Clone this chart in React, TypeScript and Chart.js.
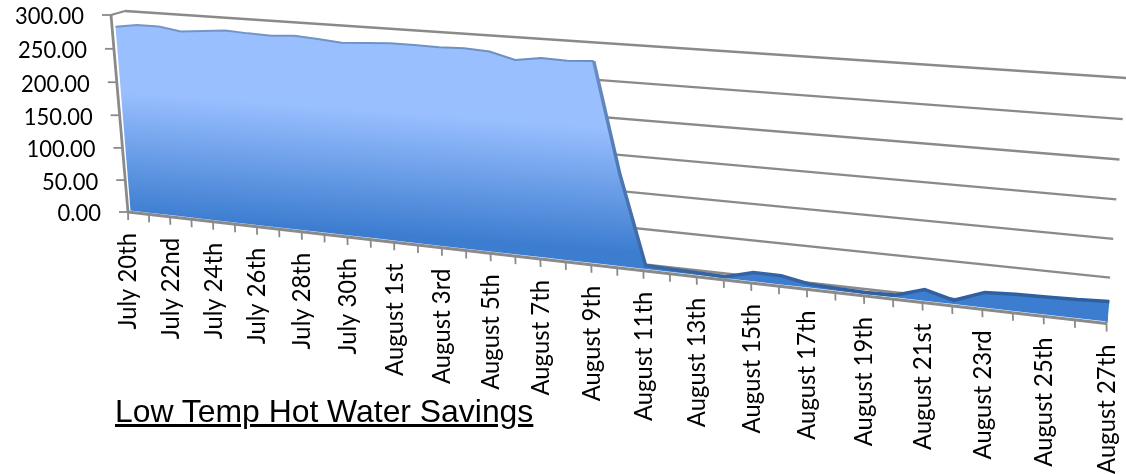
import React, { useEffect, useRef } from "react";
import { Chart, registerables } from "chart.js";

Chart.register(...registerables);

const categories = [
  "July 20th", "July 21st", "July 22nd", "July 23rd", "July 24th", "July 25th", "July 26th", "July 27th",
  "July 28th", "July 29th", "July 30th", "July 31st", "August 1st", "August 2nd", "August 3rd", "August 4th",
  "August 5th", "August 6th", "August 7th", "August 8th", "August 9th", "August 10th", "August 11th", "August 12th",
  "August 13th", "August 14th", "August 15th", "August 16th", "August 17th", "August 18th", "August 19th",
  "August 20th", "August 21st", "August 22nd", "August 23rd", "August 24th", "August 25th", "August 26th", "August 27th",
];
const savings = [
  281, 286, 286, 281, 284, 287, 285, 284, 286, 284, 281, 283, 285, 285, 284, 285, 283, 274, 279, 278, 280,
  129, 5, 4, 3, 2, 12, 12, 5, 3, 2, 3, 15, 5, 20, 22, 23, 24, 26,
];
const titleText = "Low Temp Hot Water Savings";
const Y_STEP = 50;
const Y_MAX = 300;

type Pt = [number, number];
// Perspective: unit square (u along the categories, v up the values) -> picture quad [BL, BR, TR, TL]
function homography(q: Pt[]) {
  const [[x0, y0], [x1, y1], [x2, y2], [x3, y3]] = q;
  const dx1 = x1 - x2, dx2 = x3 - x2, sx = x0 - x1 + x2 - x3;
  const dy1 = y1 - y2, dy2 = y3 - y2, sy = y0 - y1 + y2 - y3;
  const den = dx1 * dy2 - dx2 * dy1;
  const g = (sx * dy2 - dx2 * sy) / den;
  const h = (dx1 * sy - sx * dy1) / den;
  const a = x1 - x0 + g * x1, b = x3 - x0 + h * x3;
  const d = y1 - y0 + g * y1, e = y3 - y0 + h * y3;
  return (u: number, v: number): Pt => {
    const w = g * u + h * v + 1;
    return [(a * u + b * v + x0) / w, (d * u + e * v + y0) / w];
  };
}
const axisPlane = homography([[128, 212], [1106.5, 323.5], [1129, 83], [111, 15]]);
const areaPlane = homography([[130.5, 210.5], [1107.5, 321.5], [1130, 82], [114.5, 14]]);
const wallPlane = homography([[142, 208.5], [1107, 316], [1126, 78], [125, 11]]);

function norm(chart: any, xPx: number, yPx: number): Pt {
  const { x, y } = chart.scales;
  return [(xPx - x.left) / x.width, (y.bottom - yPx) / y.height];
}

const perspective = {
  id: "perspective",
  afterDatasetsUpdate(chart: any) {
    const { x, y } = chart.scales;
    chart.getDatasetMeta(0).data.forEach((p: any, i: number) => {
      const [u, v] = norm(chart, x.getPixelForValue(i), y.getPixelForValue(savings[i]));
      const [px, py] = areaPlane(u, v);
      p.x = px;
      p.y = py;
    });
  },
  beforeDatasetsDraw(chart: any) {
    const { ctx } = chart;
    const { x, y } = chart.scales;
    const GRID = "#8a8a8a";
    const line = (a: Pt, b: Pt, w: number) => {
      ctx.lineWidth = w;
      ctx.beginPath();
      ctx.moveTo(a[0], a[1]);
      ctx.lineTo(b[0], b[1]);
      ctx.stroke();
    };
    ctx.save();
    ctx.strokeStyle = GRID;
    ctx.lineCap = "butt";
    // wall gridlines
    y.ticks.forEach((t: any) => {
      const [, v] = norm(chart, 0, y.getPixelForValue(t.value));
      line(wallPlane(0, v), wallPlane(1, v), 2.3);
    });
    // joins between wall and front axes
    line(axisPlane(0, 1), wallPlane(0, 1), 2.3);
    line(axisPlane(1, 0), wallPlane(1, 0), 2.3);
    // value axis with ticks
    line(axisPlane(0, 0), axisPlane(0, 1), 2.8);
    y.ticks.forEach((t: any) => {
      const [, v] = norm(chart, 0, y.getPixelForValue(t.value));
      const p = axisPlane(0, v);
      line([p[0] - 9, p[1]], p, 1.8);
    });
    // category axis with ticks
    line(axisPlane(0, 0), axisPlane(1, 0), 2.8);
    x.ticks.forEach((_: any, i: number) => {
      const [u] = norm(chart, x.getPixelForValue(i), 0);
      const p = axisPlane(u, 0);
      line(p, [p[0] + 0.2, p[1] + 8], 1.8);
    });
    // area face: data points down to the zero line of the same plane
    const pts = chart.getDatasetMeta(0).data;
    const g = ctx.createLinearGradient(128, 92, 119, 214);
    g.addColorStop(0, "#99bfff");
    g.addColorStop(1, "#3d7dd0");
    ctx.fillStyle = g;
    ctx.beginPath();
    pts.forEach((p: any, i: number) => (i ? ctx.lineTo(p.x, p.y) : ctx.moveTo(p.x, p.y)));
    for (let i = pts.length - 1; i >= 0; i--) {
      const [u, v] = norm(chart, x.getPixelForValue(i), y.getPixelForValue(0));
      const b = areaPlane(u, v);
      ctx.lineTo(b[0], b[1]);
    }
    ctx.closePath();
    ctx.fill();
    ctx.restore();
  },
  afterDraw(chart: any) {
    const { ctx } = chart;
    const { x, y } = chart.scales;
    ctx.save();
    ctx.fillStyle = "#000";
    ctx.textAlign = "right";
    ctx.textBaseline = "middle";
    ctx.font = "23px Lato";
    y.ticks.forEach((t: any) => {
      const [, v] = norm(chart, 0, y.getPixelForValue(t.value));
      const p = axisPlane(0, v);
      ctx.save();
      ctx.translate(p[0] - 27, p[1] + 2);
      ctx.scale(0.955, 1);
      ctx.fillText(t.label, 0, 0);
      ctx.restore();
    });
    ctx.font = "24.6px Lato";
    x.ticks.forEach((t: any, i: number) => {
      if (!t.label) return;
      const [u] = norm(chart, x.getPixelForValue(i), 0);
      const p = axisPlane(u, 0);
      ctx.save();
      ctx.translate(p[0] + 0.5, p[1] + 21);
      ctx.rotate(-Math.PI / 2);
      ctx.scale(0.97, 1);
      ctx.fillText(t.label, 0, 0);
      ctx.restore();
    });
    ctx.restore();
  },
};

export default function App() {
  const ref = useRef<HTMLCanvasElement>(null);
  useEffect(() => {
    document.body.style.margin = "0";
    const canvas = ref.current!;
    const c2d = canvas.getContext("2d")!;
    const edge = c2d.createLinearGradient(0, 25, 0, 300);
    edge.addColorStop(0, "#7496c8");
    edge.addColorStop(1, "#2f5f9f");
    const chart = new Chart(canvas, {
      type: "line",
      data: {
        labels: categories,
        datasets: [
          {
            label: titleText,
            data: savings,
            fill: false,
            tension: 0,
            pointRadius: 0,
            borderColor: edge,
            borderWidth: 2,
            clip: false as any,
            segment: { borderWidth: (c: any) => (c.p0DataIndex >= 20 ? 3.5 : 2) } as any,
          },
        ],
      },
      options: {
        animation: false,
        responsive: false,
        events: [],
        layout: { padding: 0 },
        plugins: { legend: { display: false }, title: { display: false }, tooltip: { enabled: false } },
        scales: {
          x: {
            display: false,
            offset: false,
            ticks: { autoSkip: false, callback: (_: any, i: number) => (i % 2 === 0 ? categories[i] : "") },
          },
          y: {
            display: false,
            min: 0,
            max: Y_MAX,
            ticks: { stepSize: Y_STEP, callback: (v: any) => Number(v).toFixed(2) },
          },
        },
      },
      plugins: [perspective],
    });
    return () => chart.destroy();
  }, []);
  return (
    <div style={{ position: "relative", width: 1126, height: 474, overflow: "hidden", background: "#fff" }}>
      <canvas ref={ref} width={1126} height={474} style={{ display: "block" }} />
      <div
        style={{
          position: "absolute",
          left: 115,
          top: 392,
          fontFamily: "'Liberation Sans'",
          fontSize: 31.9,
          lineHeight: "38px",
          color: "#000",
          textDecoration: "underline",
          whiteSpace: "nowrap",
        }}
      >
        {titleText}
      </div>
    </div>
  );
}
